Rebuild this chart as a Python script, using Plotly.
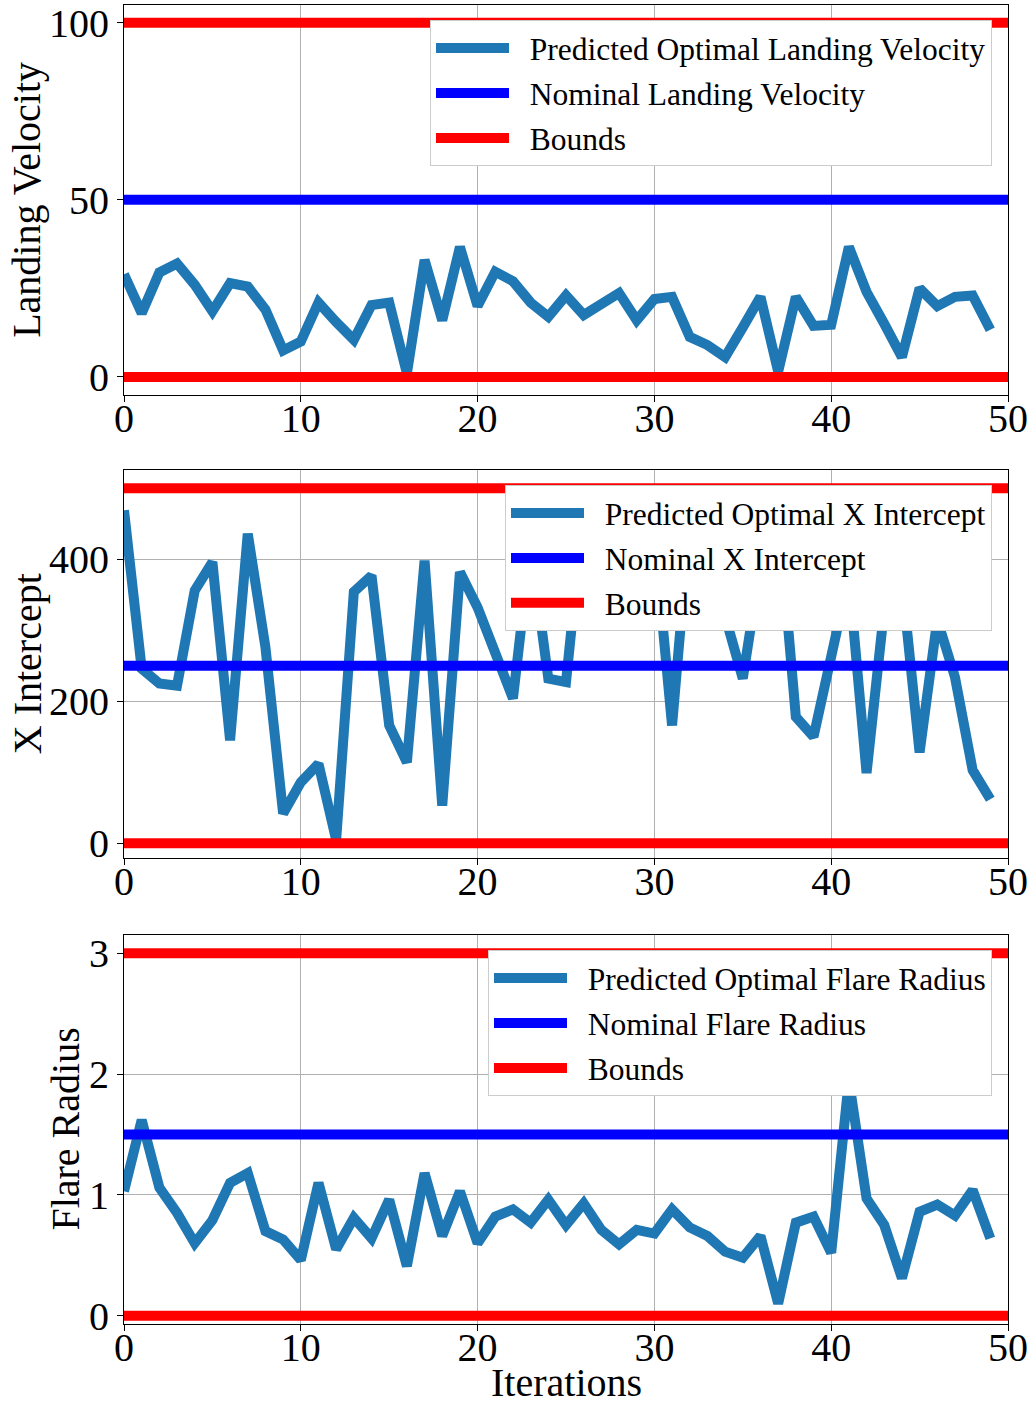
import plotly.graph_objects as go
from plotly.subplots import make_subplots

iterations = list(range(50))

landing_velocity = [29, 18, 29.5, 32, 26, 18.5, 26.5, 25.5, 19, 7.5,
                    10, 21, 15.5, 10.5, 20.3, 21, 1, 33, 16, 36.7,
                    20, 29.7, 27, 21, 17, 23, 17.5, 20.3, 23.7, 16,
                    22, 22.6, 11.3, 9, 5.6, 14, 22.6, 1.5, 22.6, 14.4,
                    14.7, 36.7, 24, 15, 5.6, 25, 20, 22.6, 23, 13.3]

x_intercept = [469, 246, 225, 222, 356, 396, 145, 436, 276, 42,
               86, 112, 5, 354, 377, 166, 114, 398, 53, 382,
               332, 269, 204, 420, 232, 227, 470, 390, 340, 410,
               432, 166, 455, 350, 320, 232, 393, 468, 178, 150,
               262, 376, 99, 330, 370, 128, 315, 234, 103, 62]

flare_radius = [1.03, 1.62, 1.06, 0.85, 0.60, 0.79, 1.10, 1.18, 0.70, 0.63,
                0.46, 1.10, 0.55, 0.81, 0.64, 0.96, 0.41, 1.18, 0.66, 1.03,
                0.60, 0.82, 0.88, 0.77, 0.96, 0.75, 0.93, 0.71, 0.59, 0.71,
                0.68, 0.88, 0.73, 0.66, 0.53, 0.48, 0.66, 0.10, 0.77, 0.82,
                0.52, 1.95, 0.97, 0.75, 0.31, 0.86, 0.92, 0.83, 1.04, 0.64]

series = [landing_velocity, x_intercept, flare_radius]
nominal_values = [50, 250, 1.5]
lower_bounds = [0, 0, 0]
upper_bounds = [100, 500, 3]
y_titles = ["Landing Velocity", "X Intercept", "Flare Radius"]
predicted_names = ["Predicted Optimal Landing Velocity",
                   "Predicted Optimal X Intercept",
                   "Predicted Optimal Flare Radius"]
nominal_names = ["Nominal Landing Velocity",
                 "Nominal X Intercept",
                 "Nominal Flare Radius"]
bounds_name = "Bounds"
y_tick_values = [[0, 50, 100], [0, 200, 400], [0, 1, 2, 3]]
x_tick_values = [0, 10, 20, 30, 40, 50]
x_range = [0, 50]
x_title = "Iterations"

FONT = "Liberation Serif, Times New Roman, serif"
C_DATA = "#1f77b4"
C_NOM = "#0000ff"
C_BND = "#ff0000"
LW = 10
GAP = "\u00a0\u00a0"

fig = make_subplots(rows=3, cols=1)

# layout geometry (paper fractions)
domains = [[0.7046, 1.0], [0.3533, 0.6471], [0.0, 0.2948]]
y_ranges = [[-5, 105], [-20.7, 525], [-0.069, 3.15]]
legend_tops = [0.9886, 0.6361, 0.2835]
y_title_x = [-0.1097, -0.1097, -0.0656]
legend_ids = ["legend", "legend2", "legend3"]

for k in range(3):
    row = k + 1
    lg = legend_ids[k]
    fig.add_trace(go.Scatter(x=iterations, y=series[k], mode="lines",
                             line=dict(color=C_DATA, width=LW),
                             name=GAP + predicted_names[k], legend=lg,
                             legendgroup=f"p{k}"), row=row, col=1)
    fig.add_trace(go.Scatter(x=x_range, y=[nominal_values[k]] * 2, mode="lines",
                             line=dict(color=C_NOM, width=LW),
                             name=GAP + nominal_names[k], legend=lg,
                             legendgroup=f"n{k}"), row=row, col=1)
    fig.add_trace(go.Scatter(x=[x_range[0], x_range[1], None, x_range[0], x_range[1]],
                             y=[lower_bounds[k], lower_bounds[k], None,
                                upper_bounds[k], upper_bounds[k]],
                             mode="lines", line=dict(color=C_BND, width=LW),
                             name=GAP + bounds_name, legend=lg,
                             legendgroup=f"b{k}"), row=row, col=1)
    yname = "yaxis" if k == 0 else f"yaxis{row}"
    xname = "xaxis" if k == 0 else f"xaxis{row}"
    fig.layout[yname].update(
        domain=domains[k], range=y_ranges[k], tickvals=y_tick_values[k], automargin=False,
        tickfont=dict(family=FONT, size=40, color="black"),
        showgrid=True, gridcolor="#b0b0b0", gridwidth=1,
        showline=True, mirror=True, linecolor="black", linewidth=1,
        ticks="outside", ticklen=6, tickcolor="black", zeroline=False)
    fig.layout[xname].update(
        range=x_range, tickvals=x_tick_values, automargin=False,
        tickfont=dict(family=FONT, size=40, color="black"),
        ticklabelstandoff=-18,
        showgrid=True, gridcolor="#b0b0b0", gridwidth=1,
        showline=True, mirror=True, linecolor="black", linewidth=1,
        ticks="outside", ticklen=6, tickcolor="black", zeroline=False)
    leg = dict(x=0.9819, xanchor="right", y=legend_tops[k], yanchor="top",
               bgcolor="white", bordercolor="#cccccc", borderwidth=1,
               font=dict(family=FONT, size=31.5, color="black"),
               itemwidth=73, tracegroupgap=1, traceorder="grouped")
    fig.layout[lg] = leg
    fig.add_annotation(text=y_titles[k], xref="paper", yref="paper",
                       x=y_title_x[k], y=(domains[k][0] + domains[k][1]) / 2,
                       xanchor="center", yanchor="middle", textangle=-90,
                       showarrow=False,
                       font=dict(family=FONT, size=40, color="black"))

fig.add_annotation(text=x_title, xref="paper", yref="paper", x=0.5, y=-0.0447,
                   xanchor="center", yanchor="middle", showarrow=False,
                   font=dict(family=FONT, size=40, color="black"))

fig.update_layout(width=1031, height=1407,
                  margin=dict(l=124, r=23, t=5, b=83, autoexpand=False),
                  paper_bgcolor="white", plot_bgcolor="white",
                  showlegend=True)

fig.write_html("out.html", config={"displayModeBar": False},
               post_script="document.body.style.margin='0px';document.body.style.padding='0px';")
